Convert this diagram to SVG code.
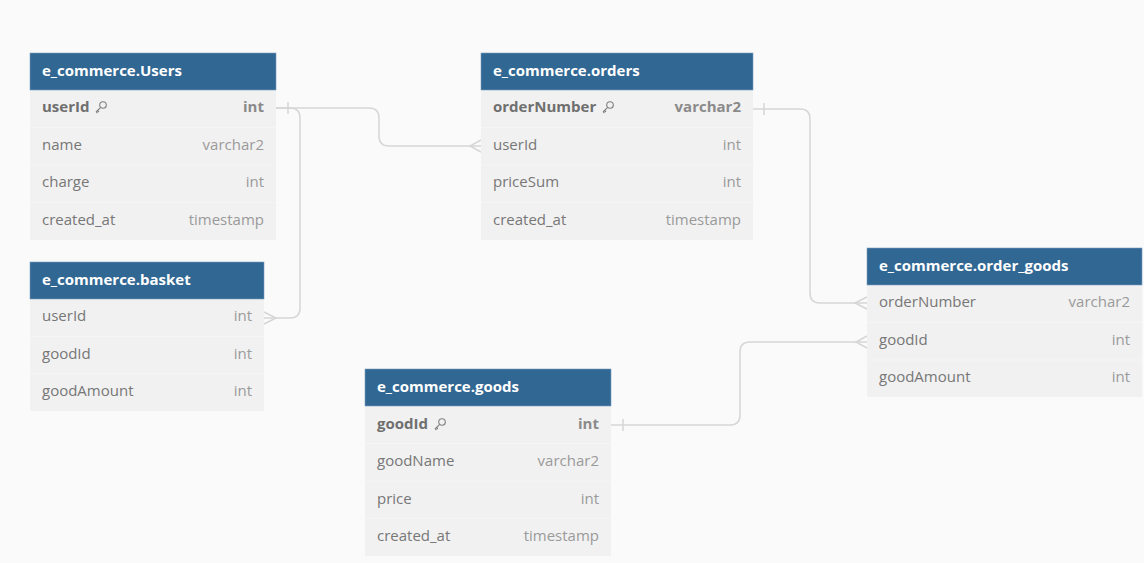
<svg xmlns="http://www.w3.org/2000/svg" width="1144" height="563" viewBox="0 0 1144 563">
<defs>
<style>
.hdr{fill:#316793;stroke:#7e9fbe;stroke-width:0.6}
.body{fill:#f1f1f1}
.sep{stroke:#f5f5f5;stroke-width:1}
.title{font-family:"Open Sans","Liberation Sans",sans-serif;font-size:15px;font-weight:bold;fill:#ffffff}
.col{font-family:"Open Sans","Liberation Sans",sans-serif;font-size:15px;fill:#777777}
.pk{font-weight:bold;fill:#6f6f6f}
.typ{font-family:"Open Sans","Liberation Sans",sans-serif;font-size:15px;fill:#9a9a9a;text-anchor:end}
.typ.pk{fill:#8a8a8a}
.conn{fill:none;stroke:#d6d6d6;stroke-width:1.5}
.key{fill:none;stroke:#808080;stroke-width:1.1}
</style>
<g id="keyicon">
<circle cx="3" cy="-3" r="3.3" class="key"/>
<path d="M0.7 -0.7 L-4 4 M-2.5 2.5 L-1 4 M-3.8 3.8 L-2.6 5" class="key"/>
</g>
</defs>
<rect width="1144" height="563" fill="#fafafa"/>

<g id="connectors">
<path class="conn" d="M276 108 H369 Q379 108 379 118 V136 Q379 146 389 146 H481"/>
<path class="conn" d="M288 102 V114"/>
<path class="conn" d="M481 140 L470 146 L481 152"/>
<path class="conn" d="M276 108 H290 Q300 108 300 118 V308 Q300 318 290 318 H264"/>
<path class="conn" d="M264 312 L276 318 L264 324"/>
<path class="conn" d="M753 109 H800 Q810 109 810 119 V293 Q810 303 820 303 H867"/>
<path class="conn" d="M764 103 V115"/>
<path class="conn" d="M867 297 L855 303 L867 309"/>
<path class="conn" d="M611 425 H730 Q740 425 740 415 V352 Q740 342 750 342 H867"/>
<path class="conn" d="M623 419 V431"/>
<path class="conn" d="M867 336 L856 342 L867 348"/>
</g>

<g id="users">
<rect class="body" x="30" y="90" width="246" height="150"/>
<path class="sep" d="M30 127.5 H276 M30 165 H276 M30 202.5 H276"/>
<rect class="hdr" x="30" y="53" width="246" height="37"/>
<text class="title" x="42" y="76">e_commerce.Users</text>
<text class="col pk" x="42" y="112">userId</text>
<use href="#keyicon" x="100" y="108"/>
<text class="typ pk" x="264" y="112">int</text>
<text class="col" x="42" y="150">name</text><text class="typ" x="264" y="150">varchar2</text>
<text class="col" x="42" y="187">charge</text><text class="typ" x="264" y="187">int</text>
<text class="col" x="42" y="225">created_at</text><text class="typ" x="264" y="225">timestamp</text>
</g>

<g id="orders">
<rect class="body" x="481" y="90" width="272" height="150"/>
<path class="sep" d="M481 127.5 H753 M481 165 H753 M481 202.5 H753"/>
<rect class="hdr" x="481" y="53" width="272" height="37"/>
<text class="title" x="493" y="76">e_commerce.orders</text>
<text class="col pk" x="493" y="112">orderNumber</text>
<use href="#keyicon" x="607" y="108"/>
<text class="typ pk" x="741" y="112">varchar2</text>
<text class="col" x="493" y="150">userId</text><text class="typ" x="741" y="150">int</text>
<text class="col" x="493" y="187">priceSum</text><text class="typ" x="741" y="187">int</text>
<text class="col" x="493" y="225">created_at</text><text class="typ" x="741" y="225">timestamp</text>
</g>

<g id="basket">
<rect class="body" x="30" y="299" width="234" height="112"/>
<path class="sep" d="M30 336.5 H264 M30 374 H264"/>
<rect class="hdr" x="30" y="262" width="234" height="37"/>
<text class="title" x="42" y="285">e_commerce.basket</text>
<text class="col" x="42" y="321">userId</text><text class="typ" x="252" y="321">int</text>
<text class="col" x="42" y="359">goodId</text><text class="typ" x="252" y="359">int</text>
<text class="col" x="42" y="396">goodAmount</text><text class="typ" x="252" y="396">int</text>
</g>

<g id="goods">
<rect class="body" x="365" y="406" width="246" height="150"/>
<path class="sep" d="M365 443.5 H611 M365 481 H611 M365 518.5 H611"/>
<rect class="hdr" x="365" y="369" width="246" height="37"/>
<text class="title" x="377" y="392">e_commerce.goods</text>
<text class="col pk" x="377" y="429">goodId</text>
<use href="#keyicon" x="439" y="425"/>
<text class="typ pk" x="599" y="429">int</text>
<text class="col" x="377" y="466">goodName</text><text class="typ" x="599" y="466">varchar2</text>
<text class="col" x="377" y="504">price</text><text class="typ" x="599" y="504">int</text>
<text class="col" x="377" y="541">created_at</text><text class="typ" x="599" y="541">timestamp</text>
</g>

<g id="order_goods">
<rect class="body" x="867" y="285" width="275" height="112"/>
<path class="sep" d="M867 322.5 H1142 M867 360 H1142"/>
<rect class="hdr" x="867" y="248" width="275" height="37"/>
<text class="title" x="879" y="271">e_commerce.order_goods</text>
<text class="col" x="879" y="307">orderNumber</text><text class="typ" x="1130" y="307">varchar2</text>
<text class="col" x="879" y="345">goodId</text><text class="typ" x="1130" y="345">int</text>
<text class="col" x="879" y="382">goodAmount</text><text class="typ" x="1130" y="382">int</text>
</g>
</svg>
